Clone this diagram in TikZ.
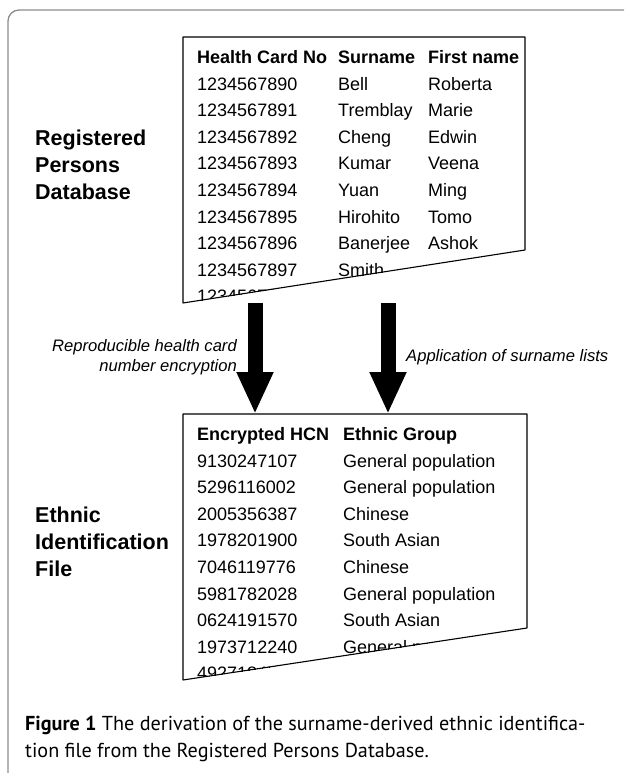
\documentclass[tikz,border=0pt]{standalone}
\usepackage{fontspec}
\setmainfont{Liberation Sans}
\newfontfamily\ptsans{PT Sans}
\usepackage{tikz}
\usetikzlibrary{arrows.meta}
\newcommand{\tabsize}{\fontsize{18}{22}\selectfont}
\newcommand{\lblsize}{\fontsize{21.5}{27}\selectfont}
\newcommand{\notesize}{\fontsize{16.6}{20}\selectfont}
\newcommand{\figsize}{\ptsans\fontsize{20.2}{27}\selectfont}

\begin{document}
\begin{tikzpicture}[x=1pt, y=-1pt,
  frame/.style={draw=black!45, line width=1.3pt, rounded corners=11pt},
  sheet/.style={draw, line width=1.1pt, line join=round},
  cell/.style={anchor=base west, inner sep=0pt, font=\tabsize},
  headcell/.style={cell, font=\tabsize\bfseries},
  dbname/.style={anchor=west, align=left, inner sep=0pt, font=\lblsize\bfseries},
  note/.style={inner sep=0pt, font=\notesize\itshape},
  flow/.style={line width=15pt, -{Triangle[length=42pt, width=34pt]}}
]
\useasboundingbox (0,0) rectangle (624,773);
\draw[frame] (8,773) -- (8,10) -- (624,10);

% registered persons database (torn sheet)
\coordinate (rp-nw) at (183,37);
\coordinate (rp-ne) at (525,37);
\coordinate (rp-se) at (525,250);
\coordinate (rp-sw) at (183,303);
\begin{scope}
  \clip (rp-nw) -- (rp-ne) -- (rp-se) -- (rp-sw) -- cycle;
  \node[headcell] (rp-h1) at (197,63.5) {Health Card No};
  \node[headcell] (rp-h2) at (338,63.5) {Surname};
  \node[headcell] (rp-h3) at (428,63.5) {First name};
  \foreach \num/\sur/\first [count=\i] in {1234567890/Bell/Roberta,
      1234567891/Tremblay/Marie, 1234567892/Cheng/Edwin, 1234567893/Kumar/Veena,
      1234567894/Yuan/Ming, 1234567895/Hirohito/Tomo, 1234567896/Banerjee/Ashok,
      1234567897/Smith/{}, 1234567898/{}/{}} {
    \node[cell] (rp-id\i) at (197,{63.5+26.6*\i}) {\num};
    \node[cell] (rp-sn\i) at (338,{63.5+26.6*\i}) {\sur};
    \node[cell] (rp-fn\i) at (428,{63.5+26.6*\i}) {\first};
  }
\end{scope}
\draw[sheet] (rp-nw) -- (rp-ne) -- (rp-se) -- (rp-sw) -- cycle;
\node[dbname] (rp-name) at (35,165) {Registered\\Persons\\Database};

% ethnic identification file (torn sheet)
\coordinate (ei-nw) at (183,414);
\coordinate (ei-ne) at (527,414);
\coordinate (ei-se) at (527,628);
\coordinate (ei-sw) at (183,680);
\begin{scope}
  \clip (ei-nw) -- (ei-ne) -- (ei-se) -- (ei-sw) -- cycle;
  \node[headcell] (ei-h1) at (197,440.5) {Encrypted HCN};
  \node[headcell] (ei-h2) at (343,440.5) {Ethnic Group};
  \foreach \num/\grp [count=\i] in {9130247107/General population,
      5296116002/General population, 2005356387/Chinese, 1978201900/South Asian,
      7046119776/Chinese, 5981782028/General population, 0624191570/South Asian,
      1973712240/General population, 4927184503/{}} {
    \node[cell] (ei-id\i) at (197,{440.5+26.6*\i}) {\num};
    \node[cell] (ei-gr\i) at (343,{440.5+26.6*\i}) {\grp};
  }
\end{scope}
\draw[sheet] (ei-nw) -- (ei-ne) -- (ei-se) -- (ei-sw) -- cycle;
\node[dbname] (ei-name) at (35,542) {Ethnic\\Identification\\File};

% derivation steps
\coordinate (enc-out) at (255,303);
\coordinate (sur-out) at (388,303);
\draw[flow] (enc-out) -- (enc-out |- ei-nw);
\draw[flow] (sur-out) -- (sur-out |- ei-nw);
\node[note, anchor=east, align=right] (enc-note) at (237,357) {Reproducible health card\\number encryption};
\node[note, anchor=west] (sur-note) at (406,357) {Application of surname lists};

\node[anchor=west, align=left, inner sep=0pt, font=\figsize] (caption) at (25,739)
  {\textbf{Figure 1} The derivation of the surname-derived ethnic identifica-\\tion file from the Registered Persons Database.};
\end{tikzpicture}
\end{document}
